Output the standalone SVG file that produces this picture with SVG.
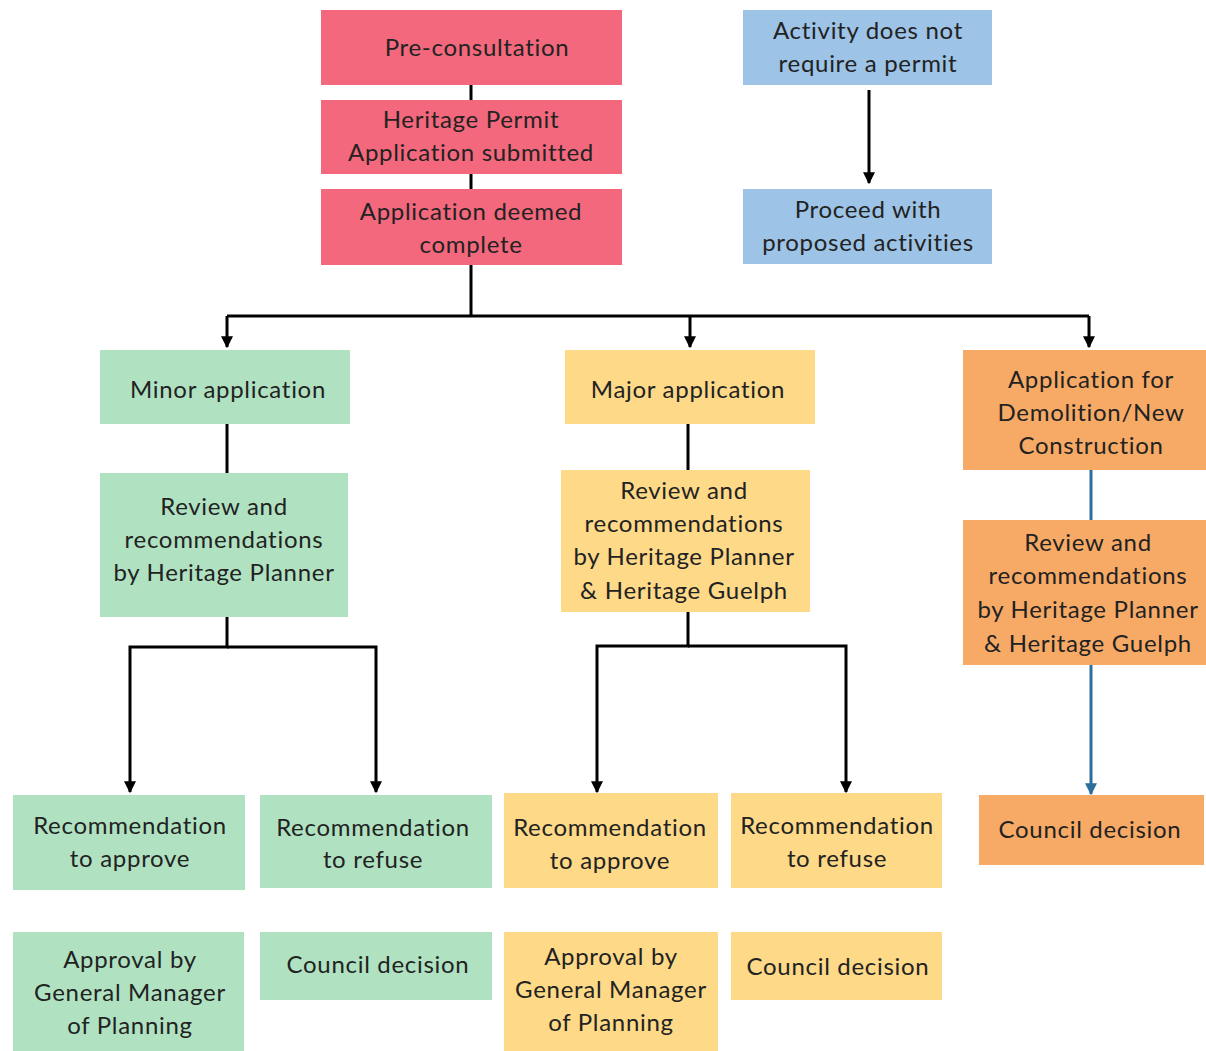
<svg xmlns="http://www.w3.org/2000/svg" width="1206" height="1051" viewBox="0 0 1206 1051">
<defs>
<style>
text{font-family:"Lato","Liberation Sans",sans-serif;font-size:24px;letter-spacing:0.7px;fill:#222;text-anchor:middle}
.red{fill:#f3687c}.blue{fill:#9dc3e6}.green{fill:#b0e2c2}.yellow{fill:#fdd988}.orange{fill:#f7aa66}
.ln{stroke:#000;stroke-width:3;fill:none}
.bl{stroke:#2c6e9b;stroke-width:3;fill:none}
</style>
<marker id="ah" viewBox="0 0 10 10" refX="9" refY="5" markerWidth="4" markerHeight="4" markerUnits="strokeWidth" orient="auto"><path d="M0,0L10,5L0,10z" fill="#000"/></marker>
<marker id="ahb" viewBox="0 0 10 10" refX="9" refY="5" markerWidth="4" markerHeight="4" markerUnits="strokeWidth" orient="auto"><path d="M0,0L10,5L0,10z" fill="#2c6e9b"/></marker>
</defs>
<rect width="1206" height="1051" fill="#fff"/>
<g id="connectors">
<path class="ln" d="M471,85V316"/>
<path class="ln" d="M869,90V183" marker-end="url(#ah)"/>
<path class="ln" d="M227,316H1089"/>
<path class="ln" d="M227,316V347" marker-end="url(#ah)"/>
<path class="ln" d="M690,316V347" marker-end="url(#ah)"/>
<path class="ln" d="M1089,316V347" marker-end="url(#ah)"/>
<path class="ln" d="M227,424V473"/>
<path class="ln" d="M227,617V647H130V792" marker-end="url(#ah)"/>
<path class="ln" d="M227,647H376V792" marker-end="url(#ah)"/>
<path class="ln" d="M688,424V470"/>
<path class="ln" d="M688,612V646H597V792" marker-end="url(#ah)"/>
<path class="ln" d="M688,646H846V792" marker-end="url(#ah)"/>
<path class="bl" d="M1091,470V520"/>
<path class="bl" d="M1091,665V794" marker-end="url(#ahb)"/>
</g>
<g id="n-preconsult"><rect class="red" x="321" y="10" width="301" height="75"/><text x="477" y="56">Pre-consultation</text></g>
<g id="n-submitted"><rect class="red" x="321" y="100" width="301" height="74"/><text x="471" y="128">Heritage Permit</text><text x="471" y="161">Application submitted</text></g>
<g id="n-complete"><rect class="red" x="321" y="189" width="301" height="76"/><text x="471" y="220">Application deemed</text><text x="471" y="253">complete</text></g>
<g id="n-nopermit"><rect class="blue" x="743" y="10" width="249" height="75"/><text x="868" y="39">Activity does not</text><text x="868" y="72">require a permit</text></g>
<g id="n-proceed"><rect class="blue" x="743" y="189" width="249" height="75"/><text x="868" y="218">Proceed with</text><text x="868" y="251">proposed activities</text></g>
<g id="n-minor"><rect class="green" x="100" y="350" width="250" height="74"/><text x="228" y="398">Minor application</text></g>
<g id="n-minor-review"><rect class="green" x="100" y="473" width="248" height="144"/><text x="224" y="515">Review and</text><text x="224" y="548">recommendations</text><text x="224" y="581">by Heritage Planner</text></g>
<g id="n-minor-approve"><rect class="green" x="13" y="795" width="232" height="95"/><text x="130" y="834">Recommendation</text><text x="130" y="867">to approve</text></g>
<g id="n-minor-refuse"><rect class="green" x="260" y="795" width="232" height="93"/><text x="373" y="836">Recommendation</text><text x="373" y="868">to refuse</text></g>
<g id="n-minor-gm"><rect class="green" x="13" y="932" width="231" height="119"/><text x="130" y="968">Approval by</text><text x="130" y="1001">General Manager</text><text x="130" y="1034">of Planning</text></g>
<g id="n-minor-council"><rect class="green" x="260" y="932" width="232" height="68"/><text x="378" y="973">Council decision</text></g>
<g id="n-major"><rect class="yellow" x="565" y="350" width="250" height="74"/><text x="688" y="398">Major application</text></g>
<g id="n-major-review"><rect class="yellow" x="561" y="470" width="249" height="142"/><text x="684" y="499">Review and</text><text x="684" y="532">recommendations</text><text x="684" y="565">by Heritage Planner</text><text x="684" y="599">&amp; Heritage Guelph</text></g>
<g id="n-major-approve"><rect class="yellow" x="504" y="793" width="214" height="95"/><text x="610" y="836">Recommendation</text><text x="610" y="869">to approve</text></g>
<g id="n-major-refuse"><rect class="yellow" x="731" y="793" width="211" height="95"/><text x="837" y="834">Recommendation</text><text x="837" y="867">to refuse</text></g>
<g id="n-major-gm"><rect class="yellow" x="504" y="932" width="214" height="119"/><text x="611" y="965">Approval by</text><text x="611" y="998">General Manager</text><text x="611" y="1031">of Planning</text></g>
<g id="n-major-council"><rect class="yellow" x="731" y="932" width="211" height="68"/><text x="838" y="975">Council decision</text></g>
<g id="n-demo"><rect class="orange" x="963" y="350" width="243" height="120"/><text x="1091" y="388">Application for</text><text x="1091" y="421">Demolition/New</text><text x="1091" y="454">Construction</text></g>
<g id="n-demo-review"><rect class="orange" x="963" y="520" width="243" height="145"/><text x="1088" y="551">Review and</text><text x="1088" y="584">recommendations</text><text x="1088" y="618">by Heritage Planner</text><text x="1088" y="652">&amp; Heritage Guelph</text></g>
<g id="n-demo-council"><rect class="orange" x="979" y="795" width="225" height="70"/><text x="1090" y="838">Council decision</text></g>
</svg>
